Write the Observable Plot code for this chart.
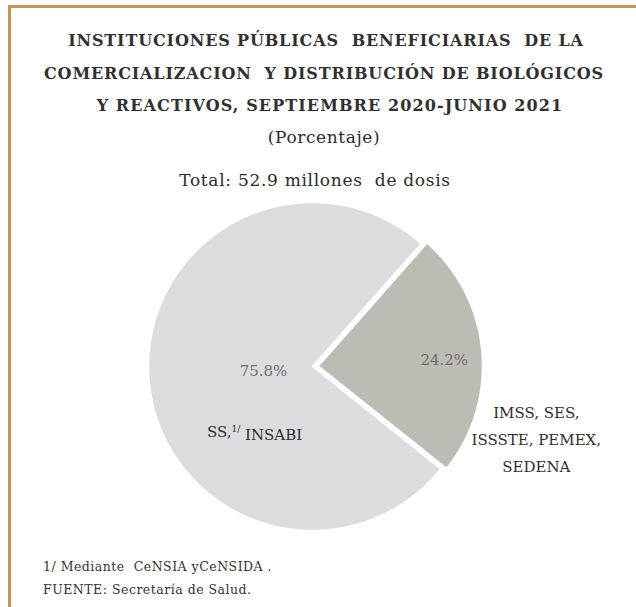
<!DOCTYPE html>
<html>
<head>
<meta charset="utf-8">
<script src="https://cdn.jsdelivr.net/npm/d3@7"></script>
<script src="https://cdn.jsdelivr.net/npm/@observablehq/plot@0.6"></script>
<style>
  html, body { margin: 0; padding: 0; background: #fff; }
  #wrap { position: relative; width: 636px; height: 607px; overflow: hidden; font-family: "DejaVu Serif", serif; color: #2b2b2b; }
  .bar { position: absolute; background: #c4965e; }
  .t { position: absolute; width: 630px; text-align: center; white-space: pre; line-height: 20px; }
  .title { font-size: 16px; font-weight: bold; color: #303030; }
  .sub { font-size: 17px; }
  .note { position: absolute; left: 43px; font-size: 12.5px; line-height: 16px; letter-spacing: 0.5px; color: #333; white-space: pre; }
  #chart { position: absolute; left: 0; top: 190px; }
</style>
</head>
<body>
<div id="wrap">
  <div class="bar" style="left:8px; top:5px; width:628px; height:3px;"></div>
  <div class="bar" style="left:8px; top:5px; width:3px; height:602px;"></div>
  <div class="t title" style="left:11px; top:31px; letter-spacing:0.85px;">INSTITUCIONES PÚBLICAS  BENEFICIARIAS  DE LA</div>
  <div class="t title" style="left:9px; top:64px; letter-spacing:0.85px;">COMERCIALIZACION  Y DISTRIBUCIÓN DE BIOLÓGICOS</div>
  <div class="t title" style="left:15px; top:96px; letter-spacing:1.1px;">Y REACTIVOS, SEPTIEMBRE 2020-JUNIO 2021</div>
  <div class="t sub" style="left:9px; top:127px; letter-spacing:0.6px;">(Porcentaje)</div>
  <div class="t sub" style="left:0px; top:170px; letter-spacing:0.7px;">Total: 52.9 millones  de dosis</div>
  <div id="chart"></div>
  <div class="note" style="top:559px;">1/ Mediante  CeNSIA yCeNSIDA .</div>
  <div class="note" style="top:582px;">FUENTE: Secretaría de Salud.</div>
</div>
<script>
// ---- data ----
const categories = ["SS,1/ INSABI", "IMSS, SES,\nISSSTE, PEMEX,\nSEDENA"];
const values = [75.8, 24.2];
const valueLabels = ["75.8%", "24.2%"];
const sliceColors = ["#dcdcde", "#bdbcb4"];

// ---- layout ----
const W = 636, H = 360, CX = 312, CY = 176, R = 164;
const deg = Math.PI / 180;
const start = 128.6 * deg;
const explode = [0, 6 / R];

const arcs = d3.pie().sort(null).value(d => d.value).startAngle(start).endAngle(start + 2 * Math.PI)(
  categories.map((c, i) => ({cat: c, value: values[i], label: valueLabels[i], i}))
);
const slices = arcs.map(a => {
  const mid = (a.startAngle + a.endAngle) / 2;
  const e = explode[a.data.i];
  return {...a.data, a0: a.startAngle, a1: a.endAngle, mid, ox: Math.sin(mid) * e, oy: Math.cos(mid) * e};
});
const points = slices.flatMap(s => {
  const pts = [{cat: s.cat, x: s.ox, y: s.oy}];
  const n = Math.ceil((s.a1 - s.a0) / (0.5 * deg));
  for (let k = 0; k <= n; k++) {
    const a = s.a0 + (s.a1 - s.a0) * k / n;
    pts.push({cat: s.cat, x: s.ox + Math.sin(a), y: s.oy + Math.cos(a)});
  }
  return pts;
});

const font = "DejaVu Serif";
const big = slices[0], small = slices[1];
const pos = (s, k) => ({x: s.ox + Math.sin(s.mid) * k, y: s.oy + Math.cos(s.mid) * k});

const chart = Plot.plot({
  width: W, height: H, margin: 0,
  x: {domain: [-CX / R, (W - CX) / R], range: [0, W], axis: null},
  y: {domain: [-(H - CY) / R, CY / R], range: [H, 0], axis: null},
  color: {domain: categories, range: sliceColors},
  style: {fontFamily: font, background: "transparent"},
  marks: [
    Plot.line(points, {x: "x", y: "y", z: "cat", fill: "cat", stroke: "white", strokeWidth: 1.5, curve: "linear-closed"}),
    Plot.text([big], {x: d => pos(d, 0.30).x, y: d => pos(d, 0.30).y, text: "label", fontSize: 15, fill: "#6e6e6e"}),
    Plot.text([small], {x: d => pos(d, 0.77).x, y: d => pos(d, 0.77).y, dy: 5, text: "label", fontSize: 15, fill: "#6e6e6e"}),
    Plot.text([big], {x: d => pos(d, 0.30).x, y: d => pos(d, 0.30).y, dx: -9, dy: 61, text: "cat", fontSize: 15, fill: "#2e2e2e"}),
    Plot.text([small], {x: d => pos(d, 0.77).x, y: d => pos(d, 0.77).y, dx: 92, dy: 81, text: "cat", fontSize: 15, lineHeight: 1.8, fill: "#2e2e2e"})
  ]
});
document.getElementById("chart").appendChild(chart);

// superscript footnote mark in the SS label
chart.querySelectorAll("text").forEach(t => {
  if (t.textContent === categories[0]) {
    t.innerHTML = 'SS,<tspan font-size="60%" dy="-0.55em">1/</tspan><tspan dy="0.55em"> INSABI</tspan>';
  }
});
</script>
</body>
</html>
